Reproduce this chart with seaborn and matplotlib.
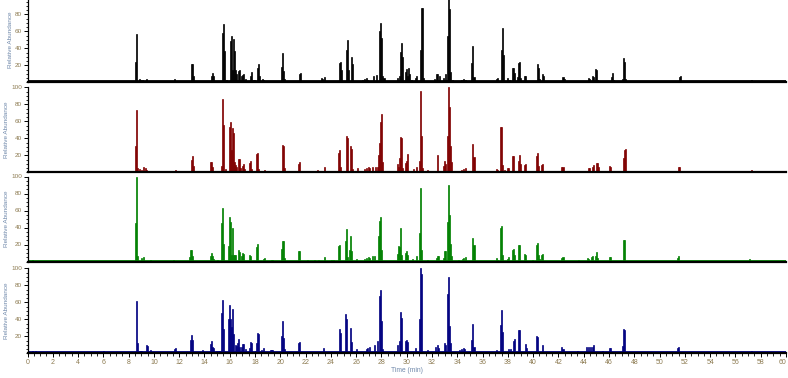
import numpy as np
import pandas as pd
import matplotlib
matplotlib.use('Agg')
import matplotlib.pyplot as plt
import seaborn as sns
from matplotlib.ticker import MultipleLocator

# ---------------- data (retention time [min], relative abundance [%]) ----------------
times_black = [0.38, 0.6, 6.13, 8.54, 8.62, 8.8, 8.95, 9.1, 9.36, 9.6, 11.6, 11.9, 13.02, 13.1, 13.2,
               13.9, 14.2, 14.5, 14.58, 14.66, 14.9, 15.1, 15.42, 15.5, 15.58, 15.75, 16.03, 16.11,
               16.19, 16.3, 16.38, 16.46, 16.54, 16.66, 16.74, 16.9, 17.0, 17.1, 17.27, 17.6, 17.68,
               17.85, 17.95, 18.2, 18.28, 18.36, 18.6, 18.7, 19.1, 19.25, 19.4, 20.15, 20.23, 20.3,
               20.4, 21.44, 21.52, 22.1, 22.5, 22.9, 23.2, 23.28, 23.47, 23.7, 23.9, 24.69, 24.77,
               24.85, 25.23, 25.31, 25.39, 25.67, 25.75, 26.5, 26.65, 26.8, 26.9, 27.43, 27.65, 27.85,
               27.93, 28.0, 28.1, 28.2, 28.5, 29.23, 29.4, 29.49, 29.57, 29.65, 29.84, 29.95, 30.03,
               30.1, 30.18, 30.4, 30.68, 30.76, 31.05, 31.13, 31.21, 31.3, 31.8, 32.2, 32.34, 32.45,
               32.58, 32.9, 33.06, 33.24, 33.32, 33.4, 33.47, 33.6, 34.2, 34.35, 34.5, 34.65, 35.18,
               35.26, 35.34, 36.1, 37.09, 37.17, 37.46, 37.54, 37.62, 37.99, 38.1, 38.39, 38.47,
               38.55, 38.77, 38.85, 38.93, 39.01, 39.3, 39.38, 39.92, 40.34, 40.42, 40.5, 40.74,
               40.82, 41.3, 42.34, 42.42, 43.48, 44.32, 44.4, 44.7, 44.78, 44.93, 45.01, 45.1, 45.72,
               45.9, 46.17, 46.25, 46.33, 47.1, 47.17, 47.25, 47.33, 51.53, 51.61, 57.26]
abund_black = [2, 2, 1.5, 24, 57, 4, 3, 3, 4, 2, 4, 2, 21, 22, 8,
               2, 2, 8, 11, 8, 2, 2, 58, 69, 37, 3, 49, 55,
               15, 51, 37, 15, 10, 13, 15, 7, 9, 10, 4, 8, 12,
               3, 3, 17, 22, 7, 4, 3, 2, 2, 2, 18, 35, 13,
               4, 10, 11, 2, 2, 2, 5, 4, 6, 2, 2, 23, 24,
               14, 38, 50, 15, 30, 22, 3, 4, 5, 3, 8, 9, 60,
               70, 52, 8, 5, 2, 5, 8, 36, 46, 30, 12, 16, 8,
               17, 10, 3, 5, 8, 38, 88, 88, 5, 2, 4, 10, 10,
               7, 5, 10, 55, 100, 86, 12, 3, 2, 3, 4, 3, 23,
               43, 6, 2, 4, 5, 38, 64, 32, 5, 3, 17, 17,
               11, 6, 23, 24, 5, 8, 7, 2, 22, 17, 4, 10,
               7, 2, 6, 4, 2, 5, 4, 8, 6, 16, 14, 3, 2,
               2, 6, 11, 3, 4, 29, 24, 4, 6, 7, 2.5]

times_red = [0.33, 0.57, 6.2, 8.54, 8.62, 8.7, 8.85, 9.0, 9.2, 9.3, 9.4, 11.68, 12.1, 12.97, 13.05,
             13.13, 13.9, 14.47, 14.55, 14.63, 14.9, 15.1, 15.35, 15.43, 15.51, 15.6, 15.95, 16.03,
             16.11, 16.19, 16.27, 16.35, 16.43, 16.55, 16.66, 16.74, 16.82, 17.0, 17.07, 17.15,
             17.56, 17.64, 17.72, 18.09, 18.17, 18.25, 18.75, 18.85, 19.3, 19.45, 20.17, 20.25,
             20.33, 21.39, 21.47, 22.2, 22.5, 22.9, 23.2, 23.45, 23.6, 24.61, 24.69, 24.77, 25.24,
             25.32, 25.56, 25.64, 25.72, 26.1, 26.7, 26.85, 26.98, 27.1, 27.3, 27.54, 27.7, 27.78,
             27.86, 27.94, 28.02, 28.1, 29.23, 29.31, 29.39, 29.47, 29.55, 29.63, 29.84, 29.92,
             30.0, 30.08, 30.5, 30.73, 30.97, 31.05, 31.13, 31.21, 31.6, 32.4, 32.48, 32.92, 33.0,
             33.08, 33.24, 33.32, 33.4, 33.47, 33.55, 34.2, 34.35, 34.5, 34.7, 35.22, 35.3, 37.07,
             37.15, 37.36, 37.44, 37.52, 37.7, 37.94, 38.02, 38.39, 38.47, 38.86, 38.94, 39.02,
             39.33, 39.41, 39.93, 40.29, 40.37, 40.45, 40.69, 40.77, 40.9, 42.24, 42.32, 43.48,
             44.35, 44.43, 44.67, 44.75, 44.96, 45.04, 45.12, 45.5, 46.07, 46.15, 47.13, 47.21,
             47.29, 48.81, 51.45, 51.53, 57.26]
abund_red = [2, 1.5, 1.5, 31, 73, 5, 4, 3, 7, 5, 3, 3, 2, 15, 19,
             8, 2, 12, 12, 6, 2, 2, 8, 87, 56, 4, 53, 59,
             27, 52, 47, 12, 9, 6, 16, 16, 5, 8, 10, 4,
             11, 13, 4, 22, 23, 4, 3, 2, 2, 2, 32, 31,
             5, 10, 12, 2, 2, 3, 2, 7, 2, 23, 26, 6, 43,
             40, 31, 28, 4, 5, 4, 5, 7, 5, 7, 7, 6, 20,
             35, 59, 69, 12, 10, 6, 17, 42, 41, 5, 11, 13,
             12, 10, 4, 7, 13, 96, 43, 5, 3, 10, 10, 8, 13,
             10, 43, 100, 77, 31, 12, 2, 3, 4, 5, 33, 18, 4,
             3, 54, 53, 9, 3, 5, 5, 19, 19, 13, 21, 10,
             9, 10, 2, 19, 23, 8, 9, 10, 2, 6, 6, 2,
             5, 5, 6, 9, 11, 11, 7, 2, 8, 7, 17, 26,
             28, 1.5, 6, 7, 2.5]

times_green = [0.35, 8.54, 8.62, 8.7, 9.0, 9.2, 9.7, 11.55, 12.84, 12.92, 13.0, 13.08, 14.45, 14.53,
               14.61, 14.69, 15.0, 15.32, 15.4, 15.48, 15.9, 15.98, 16.06, 16.14, 16.22, 16.3, 16.38,
               16.46, 16.66, 16.74, 16.9, 16.98, 17.06, 17.56, 17.64, 18.09, 18.17, 18.7, 18.78,
               19.3, 19.4, 20.12, 20.2, 20.28, 20.36, 21.4, 21.48, 22.1, 22.7, 23.0, 23.45, 24.0,
               24.2, 24.61, 24.69, 25.16, 25.24, 25.32, 25.48, 25.56, 25.64, 26.08, 26.7, 26.85,
               26.98, 27.1, 27.28, 27.5, 27.78, 27.86, 27.94, 28.02, 29.23, 29.31, 29.39, 29.47,
               29.55, 29.84, 29.92, 30.0, 30.45, 30.73, 30.97, 31.05, 31.13, 31.6, 32.36, 32.45,
               32.53, 32.93, 33.0, 33.08, 33.24, 33.32, 33.4, 33.47, 33.55, 34.1, 34.4, 34.55, 34.7,
               35.22, 35.3, 37.07, 37.15, 37.41, 37.49, 37.57, 37.94, 38.02, 38.36, 38.44, 38.52,
               38.83, 38.91, 39.33, 39.41, 39.93, 40.26, 40.34, 40.42, 40.5, 40.69, 40.77, 42.24,
               42.32, 43.55, 44.3, 44.38, 44.6, 44.68, 44.88, 44.96, 45.04, 46.07, 46.15, 47.15,
               47.23, 51.4, 51.5, 57.1]
abund_green = [1.5, 45, 100, 6, 4, 5, 2, 2, 5, 14, 14, 7, 6, 10,
               6, 3, 2, 45, 63, 21, 18, 52, 47, 8, 40, 8, 8,
               8, 13, 11, 6, 10, 9, 8, 7, 17, 21, 3, 4,
               2, 2, 15, 24, 24, 4, 12, 12, 1.5, 2, 2, 5, 2,
               2, 18, 19, 24, 38, 5, 13, 30, 12, 3, 3, 4,
               5, 4, 6, 7, 30, 48, 52, 14, 9, 18, 17, 39,
               8, 10, 12, 8, 3, 7, 33, 86, 14, 2, 4, 7,
               7, 4, 12, 12, 46, 90, 55, 21, 6, 2, 3, 4, 5,
               28, 19, 4, 2, 40, 42, 8, 3, 5, 13, 15, 8,
               20, 20, 9, 8, 2, 19, 22, 8, 3, 8, 9, 4,
               5, 2, 4, 3, 5, 7, 7, 11, 4, 5, 5, 25,
               25, 4, 6, 2.5]

times_blue = [0.38, 0.59, 3.5, 6.06, 8.59, 8.7, 8.8, 8.9, 9.0, 9.36, 9.44, 9.7, 11.28, 11.62, 11.7,
              12.0, 12.6, 12.92, 13.0, 13.08, 13.87, 14.4, 14.5, 14.6, 14.68, 14.9, 15.05, 15.2,
              15.35, 15.43, 15.51, 15.9, 15.98, 16.06, 16.14, 16.22, 16.3, 16.4, 16.48, 16.6, 16.7,
              16.78, 16.93, 17.01, 17.09, 17.2, 17.56, 17.64, 17.72, 18.0, 18.1, 18.18, 18.26, 18.5,
              18.66, 19.2, 19.3, 19.4, 20.1, 20.18, 20.26, 20.4, 21.4, 21.48, 22.2, 22.6, 23.0,
              23.42, 23.8, 24.69, 24.77, 25.19, 25.27, 25.59, 25.67, 26.0, 26.8, 26.95, 27.1, 27.51,
              27.7, 27.85, 27.93, 28.01, 28.1, 29.23, 29.39, 29.47, 29.55, 29.89, 29.97, 30.05,
              30.68, 30.97, 31.05, 31.13, 31.6, 32.26, 32.4, 32.5, 32.98, 33.1, 33.24, 33.32, 33.4,
              33.48, 34.2, 34.35, 34.5, 34.6, 35.14, 35.22, 35.3, 36.1, 37.04, 37.36, 37.44, 37.52,
              38.0, 38.2, 38.42, 38.5, 38.87, 38.95, 39.4, 39.48, 39.95, 40.26, 40.34, 40.8, 41.4,
              42.27, 42.35, 43.5, 44.2, 44.35, 44.5, 44.7, 44.8, 45.5, 46.0, 46.08, 47.1, 47.18,
              47.26, 48.7, 51.0, 51.4, 51.48, 53.5, 56.4, 57.2]
abund_blue = [3, 2.5, 2, 2.5, 61, 12, 3, 3, 3, 10, 9, 4, 2, 5, 6,
              2, 2, 16, 22, 16, 4, 11, 14, 7, 6, 3, 3, 3,
              48, 63, 29, 40, 57, 40, 31, 52, 23, 10, 9, 12, 17,
              7, 8, 11, 11, 5, 6, 13, 12, 3, 12, 24, 23, 4,
              6, 4, 4, 4, 20, 38, 18, 5, 12, 13, 2, 2, 2,
              6, 2, 29, 24, 46, 40, 30, 13, 5, 5, 6, 8, 10,
              14, 68, 75, 38, 5, 10, 15, 49, 41, 14, 16, 13,
              6, 40, 100, 93, 4, 7, 10, 6, 12, 10, 70, 90, 32,
              12, 4, 5, 6, 5, 16, 35, 8, 2, 4, 33, 51, 25,
              5, 5, 14, 17, 27, 27, 11, 6, 2, 20, 19, 10, 2,
              7, 5, 3, 8, 8, 7, 8, 10, 3, 6, 6, 9, 29,
              27, 2, 2, 6, 8, 1.5, 2, 2.5]

x_ticks = list(range(0, 61, 2))
y_ticks = [20, 40, 60, 80, 100]
y_ticks_top = [20, 40, 60, 80]   # top panel: the 100 label lies above the picture

# ---------------- figure ----------------
sns.set_style('white')
plt.rcParams['font.family'] = ['Liberation Sans', 'DejaVu Sans']

W, H = 788, 378
fig = plt.figure(figsize=(W / 100, H / 100), dpi=100)
left = 27.5 / W
width = 758.5 / W
height = 85 / H
baselines_px = [82.3, 172.5, 261.5, 353.3]
panels = [(times_black, abund_black, '#000000'),
          (times_red, abund_red, '#800000'),
          (times_green, abund_green, '#008000'),
          (times_blue, abund_blue, '#000080')]

tick_col = '#8c7a50'
label_col = '#6f88aa'

for i, (t, a, c) in enumerate(panels):
    n = min(len(t), len(a))
    df = pd.DataFrame({'time': t[:n], 'abund': a[:n]})
    ax = fig.add_axes([left, 1 - baselines_px[i] / H, width, height])
    ax.patch.set_alpha(0)
    sns.histplot(data=df, x='time', weights='abund', binwidth=0.08, binrange=(0, 60),
                 color=c, alpha=1, element='bars', fill=True, edgecolor=c, linewidth=0.5, ax=ax)
    ax.axhline(1.0, color=c, lw=1.3, zorder=1)
    ax.set_xlim(0, 60)
    ax.set_ylim(0, 100)
    for s in ['top', 'right']:
        ax.spines[s].set_visible(False)
    ax.spines['left'].set_color('black')
    ax.spines['left'].set_linewidth(0.9)
    ax.spines['bottom'].set_color('black')
    ax.spines['bottom'].set_linewidth(1.6)
    ax.set_yticks(y_ticks_top if i == 0 else y_ticks)
    ax.yaxis.set_minor_locator(MultipleLocator(5))
    ax.tick_params(axis='y', which='major', direction='out', length=3, width=0.7,
                   labelsize=4.6, labelcolor=tick_col, pad=1, color='black', left=True)
    ax.tick_params(axis='y', which='minor', direction='out', length=1.6, width=0.6,
                   color='black', left=True)
    ax.set_ylabel('Relative Abundance', fontsize=4.6, color=label_col, labelpad=1.5)
    if i < 3:
        ax.tick_params(axis='x', which='both', bottom=False, labelbottom=False)
        ax.set_xlabel('')
    else:
        ax.set_xticks(x_ticks)
        ax.xaxis.set_minor_locator(MultipleLocator(0.5))
        ax.tick_params(axis='x', which='major', direction='out', length=3, width=0.7,
                       labelsize=5, labelcolor=tick_col, pad=1.2, color='black', bottom=True)
        ax.tick_params(axis='x', which='minor', direction='out', length=1.8, width=0.6,
                       color='black', bottom=True)
        ax.set_xlabel('Time (min)', fontsize=4.8, color=label_col, labelpad=0.5)
        # keep the last label ("60") inside the picture
        ax.get_xticklabels()[-1].set_horizontalalignment('right')

fig.savefig('out.png', dpi=100)
